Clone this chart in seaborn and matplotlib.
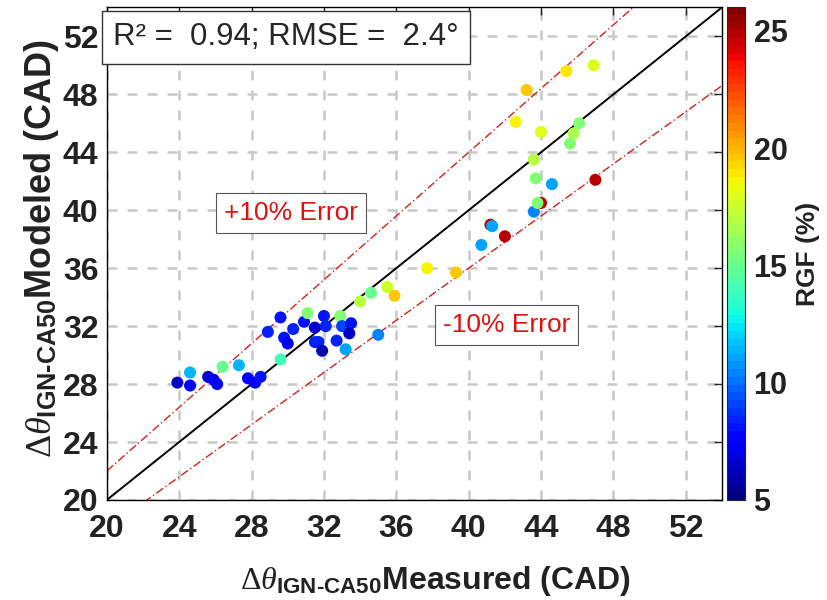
import numpy as np
import pandas as pd
import matplotlib
matplotlib.use("Agg")
import matplotlib.pyplot as plt
import seaborn as sns

# ---- data ----
measured = [23.9, 24.6, 24.6, 25.6, 25.9, 26.1, 26.4, 27.3, 27.8, 28.2, 28.5,
            28.9, 29.6, 29.6, 29.8, 30.0, 30.3, 30.9, 31.1, 31.5, 31.5, 31.7,
            31.9, 32.0, 32.1, 32.7, 32.9, 33.0, 33.5, 33.4, 33.2, 34.0, 34.6,
            35.0, 35.5, 35.9, 37.7, 39.3, 40.7, 41.2, 41.3, 42.0, 43.6, 44.0,
            43.8, 44.6, 47.0, 43.7, 43.6, 45.6, 45.8, 46.1, 44.0, 42.6, 43.2,
            45.4, 46.9]
modeled = [28.1, 27.9, 28.8, 28.5, 28.3, 28.0, 29.2, 29.3, 28.4, 28.1, 28.5,
           31.6, 29.7, 32.6, 31.2, 30.8, 31.8, 32.3, 32.9, 31.9, 30.9, 30.9,
           30.3, 32.7, 32.0, 31.0, 32.7, 32.0, 32.2, 31.5, 30.4, 33.7, 34.3,
           31.4, 34.7, 34.1, 36.0, 35.7, 37.6, 39.0, 38.9, 38.2, 39.9, 40.5,
           40.5, 41.8, 42.1, 42.2, 43.5, 44.6, 45.3, 46.0, 45.4, 46.1, 48.3,
           49.6, 50.0]
rgf = [6.5, 7.5, 11.5, 6.5, 7.5, 7.5, 15.0, 11.5, 7.5, 7.5, 8.0,
       8.5, 14.0, 8.0, 8.0, 7.0, 8.5, 8.0, 15.5, 6.5, 8.5, 8.5,
       6.0, 8.0, 8.5, 8.5, 15.5, 9.0, 8.0, 6.5, 11.0, 17.0, 15.0,
       10.5, 17.5, 19.5, 18.5, 19.5, 11.0, 25.0, 11.0, 25.0, 10.5, 25.0,
       15.5, 11.0, 25.0, 15.5, 17.0, 15.5, 16.5, 15.5, 18.0, 18.5, 19.5,
       19.0, 18.0]

x_ticks = [20, 24, 28, 32, 36, 40, 44, 48, 52]
y_ticks = [20, 24, 28, 32, 36, 40, 44, 48, 52]
cbar_ticks = [5, 10, 15, 20, 25]
ref_x = [20, 54]
upper_y = [22.0, 59.4]   # +10 %
lower_y = [18.0, 48.6]   # -10 %
stats_text = "R² =  0.94; RMSE =  2.4°"
plus_text = "+10% Error"
minus_text = "-10% Error"

df = pd.DataFrame({"measured": measured, "modeled": modeled, "rgf": rgf})

sns.set_style("white")
plt.rcParams["font.family"] = ["Liberation Sans", "DejaVu Sans"]
plt.rcParams["mathtext.fontset"] = "custom"
plt.rcParams["mathtext.rm"] = "Liberation Sans:bold"
plt.rcParams["mathtext.bf"] = "Liberation Sans:bold"
plt.rcParams["mathtext.it"] = "Liberation Serif:italic"
plt.rcParams["mathtext.sf"] = "Liberation Serif"

cmap = plt.get_cmap("jet", 64)
norm = matplotlib.colors.Normalize(vmin=5, vmax=26)

fig = plt.figure(figsize=(8.28, 6.0), dpi=100)
ax = fig.add_axes([0.129, 0.1667, 0.743, 0.821])
cax = fig.add_axes([0.878, 0.1667, 0.022, 0.821])

ax.grid(True, linestyle=(0, (4, 4)), color="#c8c8c8", linewidth=1.8)
ax.set_axisbelow(True)

sns.lineplot(x=ref_x, y=ref_x, color="black", linewidth=1.4, ax=ax)
sns.lineplot(x=ref_x, y=upper_y, color="#d02020", linewidth=1.0,
             linestyle=(0, (6, 2, 1, 2)), ax=ax)
sns.lineplot(x=ref_x, y=lower_y, color="#d02020", linewidth=1.0,
             linestyle=(0, (6, 2, 1, 2)), ax=ax)

sns.scatterplot(data=df, x="measured", y="modeled", hue="rgf", palette=cmap,
                hue_norm=norm, s=75, linewidth=0, legend=False, ax=ax, zorder=3)

ax.set_xlim(20, 54)
ax.set_ylim(20, 54)
ax.set_xticks(x_ticks)
ax.set_yticks(y_ticks)
ax.tick_params(axis="both", direction="in", length=6, width=1, labelsize=23,
               top=True, right=True, pad=6)
ax.tick_params(axis="x", pad=10)
for lab in ax.get_xticklabels() + ax.get_yticklabels():
    lab.set_fontweight("bold")
    lab.set_color("#222222")
for sp in ax.spines.values():
    sp.set_color("black")
    sp.set_linewidth(1.0)

ax.set_xlabel(r"$\mathsf{\Delta}\theta_{\text{IGN-CA50}}$Measured (CAD)",
              fontsize=23, fontweight="bold", color="#222222")
ax.set_ylabel(r"$\mathsf{\Delta}\theta_{\text{IGN-CA50}}$Modeled (CAD)",
              fontsize=26, fontweight="bold", color="#222222")
ax.xaxis.set_label_coords(0.535, -0.13)
ax.yaxis.set_label_coords(-0.075, 0.51)

ax.text(0.291, 0.939, stats_text, transform=ax.transAxes, fontsize=22.5,
        ha="center", va="center",
        bbox=dict(boxstyle="square,pad=0.36", facecolor="white",
                  edgecolor="#333333", linewidth=1.0), zorder=5)
ax.text(30.2, 39.8, plus_text, fontsize=19, color="#dd1111", ha="center",
        va="center", bbox=dict(boxstyle="square,pad=0.3", facecolor="white",
                               edgecolor="#555555", linewidth=0.8), zorder=4)
ax.text(42.1, 32.1, minus_text, fontsize=19, color="#dd1111", ha="center",
        va="center", bbox=dict(boxstyle="square,pad=0.3", facecolor="white",
                               edgecolor="#555555", linewidth=0.8), zorder=4)

sm = matplotlib.cm.ScalarMappable(norm=norm, cmap=cmap)
cb = fig.colorbar(sm, cax=cax)
cb.set_ticks(cbar_ticks)
cb.ax.tick_params(direction="in", length=4, labelsize=22, pad=6)
for lab in cb.ax.get_yticklabels():
    lab.set_fontweight("bold")
    lab.set_color("#222222")
cb.set_label("RGF (%)", fontsize=19, fontweight="bold", color="#222222",
             labelpad=6)
cb.outline.set_linewidth(0.8)

fig.savefig("out.png", dpi=100)
